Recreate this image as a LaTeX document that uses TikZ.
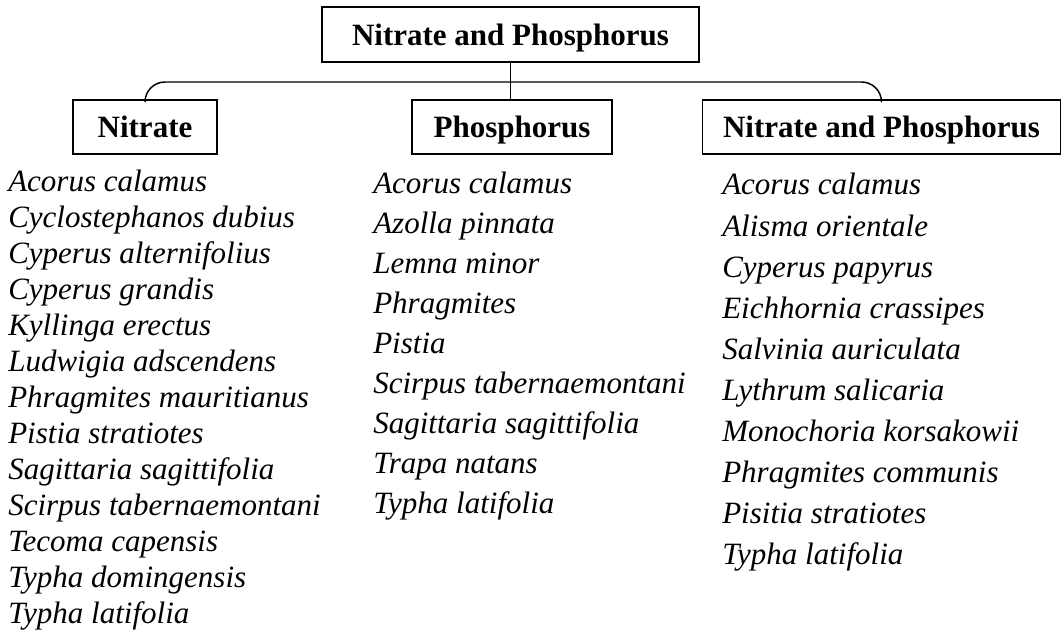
\documentclass[tikz,border=0pt]{standalone}
\usepackage{fontspec}
\setmainfont{Liberation Serif}
\begin{document}
\begin{tikzpicture}[x=0.75pt,y=-0.75pt,
  box/.style={draw, line width=1.1pt, inner sep=0pt, text height=18pt, text depth=1.6pt, font=\fontsize{23.25}{27}\selectfont\bfseries},
  item/.style={inner sep=0pt, anchor=base west, font=\fontsize{23.25}{27}\selectfont\itshape},
  link/.style={line width=1.1pt}]
\useasboundingbox (0,0) rectangle (1063,631);
\node[box, minimum width=282.75pt, minimum height=41.25pt] (top) at (510.5,34.5) {Nitrate and Phosphorus};
\node[box, minimum width=108pt, minimum height=40.5pt] (nit) at (145,127) {Nitrate};
\node[box, minimum width=150pt, minimum height=40.5pt] (pho) at (512,127) {Phosphorus};
\node[box, minimum width=268.5pt, minimum height=40.5pt] (both) at (881.5,127) {Nitrate and Phosphorus};
\coordinate (bar) at (510,82);
\draw[link, rounded corners=15pt] (nit.north) |- (bar) -| (both.north);
\draw[link] (top.south) -- (top.south |- pho.north);
\foreach \t [count=\i] in {Acorus calamus, Cyclostephanos dubius, Cyperus alternifolius, Cyperus grandis, Kyllinga erectus, Ludwigia adscendens, Phragmites mauritianus, Pistia stratiotes, Sagittaria sagittifolia, Scirpus tabernaemontani, Tecoma capensis, Typha domingensis, Typha latifolia}
  \node[item] (a\i) at (8,{191+36*(\i-1)}) {\t};
\foreach \t [count=\i] in {Acorus calamus, Azolla pinnata, Lemna minor, Phragmites, Pistia, Scirpus tabernaemontani, Sagittaria sagittifolia, Trapa natans, Typha latifolia}
  \node[item] (b\i) at (373,{193+40*(\i-1)}) {\t};
\foreach \t [count=\i] in {Acorus calamus, Alisma orientale, Cyperus papyrus, Eichhornia crassipes, Salvinia auriculata, Lythrum salicaria, Monochoria korsakowii, Phragmites communis, Pisitia stratiotes, Typha latifolia}
  \node[item] (c\i) at (722,{195+41.1*(\i-1)}) {\t};
\end{tikzpicture}
\end{document}
